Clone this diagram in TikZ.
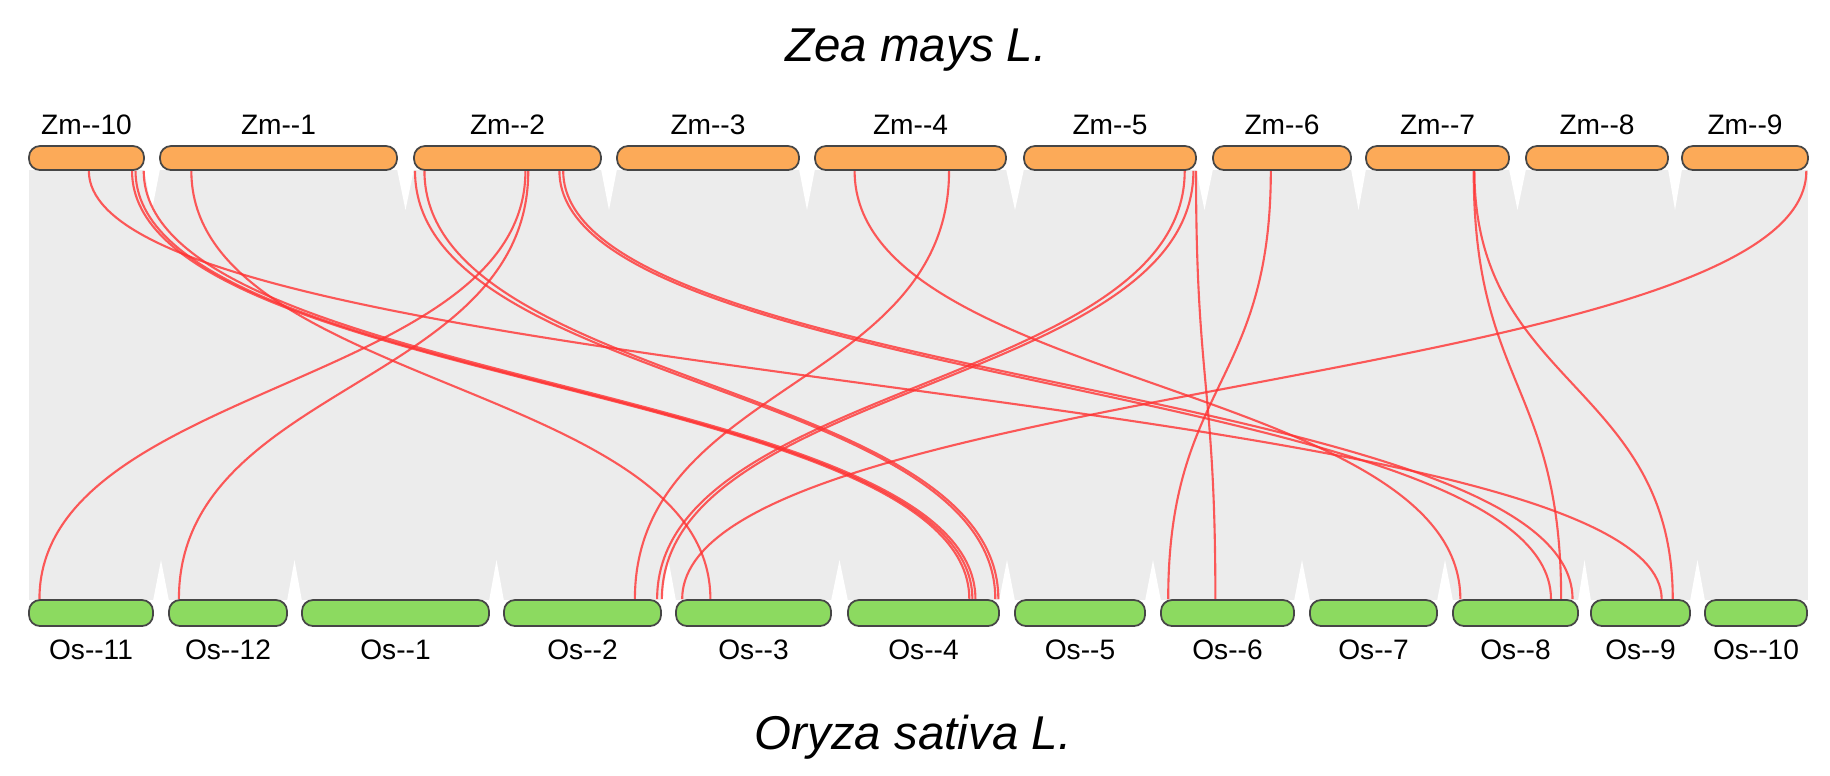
\documentclass[tikz,border=0pt]{standalone}
\usepackage{fontspec}
\setmainfont{Liberation Sans}
\usetikzlibrary{calc,positioning,backgrounds}

\definecolor{zmorange}{RGB}{252,170,88}
\definecolor{osgreen}{RGB}{140,218,96}
\definecolor{barline}{RGB}{70,70,70}
\definecolor{linkgray}{RGB}{236,236,236}
\definecolor{synred}{RGB}{255,50,50}

\newcommand{\synlink}[4]{%
  \draw[synline] ($(#1.south west)!#2!(#1.south east)$) .. controls +(0,215) and +(0,-215) .. ($(#3.north west)!#4!(#3.north east)$)}

\begin{document}
\begin{tikzpicture}[x=0.01cm, y=-0.01cm,
    zmbar/.style={draw=barline, line width=0.5pt, fill=zmorange, rounded corners=0.11cm, minimum height=0.24cm, inner sep=0pt},
    osbar/.style={draw=barline, line width=0.5pt, fill=osgreen, rounded corners=0.11cm, minimum height=0.26cm, inner sep=0pt},
    barlabel/.style={inner sep=0pt, font=\fontsize{8pt}{9pt}\selectfont},
    species/.style={anchor=base, inner sep=0pt, font=\fontsize{13.5pt}{16pt}\selectfont\itshape},
    synline/.style={draw=synred, line width=0.6pt, draw opacity=0.8}]
  \useasboundingbox (0,0) rectangle (1830,775);

  \node[species] (zea) at (916,61) {Zea mays L.};
  \node[species] (oryza) at (913,749) {Oryza sativa L.};

  \foreach \num/\x/\w in {10/29/115, 1/160/237, 2/414/187, 3/617/182, 4/815/191,
                          5/1024/172, 6/1213/138, 7/1366/143, 8/1526/142, 9/1682/126}{
    \node[zmbar, minimum width=\w*0.01cm] (zm\num) at ({\x+\w/2},158) {};
    \node[barlabel, above=0.1cm of zm\num] (zm\num-lab) {Zm-{}-\num};
  }

  \foreach \num/\x/\w in {11/29/124, 12/169/118, 1/302/187, 2/504/157, 3/676/155, 4/848/151,
                          5/1015/130, 6/1161/133, 7/1310/127, 8/1453/125, 9/1591/99, 10/1705/102}{
    \node[osbar, minimum width=\w*0.01cm] (os\num) at ({\x+\w/2},613) {};
    \node[barlabel, below=0.12cm of os\num] (os\num-lab) {Os-{}-\num};
  }

  \begin{pgfonlayer}{background}
    \fill[linkgray] (29,170) rectangle (1808,600);
    \foreach \lx/\rx in {144/160, 397/414, 601/617, 799/815, 1006/1024, 1196/1213, 1351/1366, 1509/1526, 1668/1682}
      \fill[white] (\lx,169) -- (\rx,169) -- ({(\lx+\rx)/2},210) -- cycle;
    \foreach \lx/\rx in {153/169, 287/302, 489/504, 661/676, 831/848, 999/1015, 1145/1161, 1294/1310, 1437/1453, 1578/1591, 1690/1705}
      \fill[white] (\lx,601) -- (\rx,601) -- ({(\lx+\rx)/2},560) -- cycle;

    \foreach \zm/\zp/\os/\op in {zm10/0.52/os9/0.71, zm10/0.89/os4/0.80, zm10/0.92/os4/0.82, zm10/0.99/os4/0.84,
        zm1/0.135/os3/0.225, zm2/0.01/os4/0.97, zm2/0.06/os4/0.99, zm2/0.595/os11/0.09, zm2/0.61/os12/0.09,
        zm2/0.775/os8/0.78, zm2/0.795/os8/0.95, zm4/0.21/os8/0.065, zm4/0.70/os2/0.83, zm5/0.93/os2/0.97,
        zm5/0.98/os2/1.0, zm5/0.995/os6/0.41, zm6/0.42/os6/0.06, zm7/0.75/os8/0.86, zm7/0.755/os9/0.82,
        zm9/0.98/os3/0.045}
      \synlink{\zm}{\zp}{\os}{\op};
  \end{pgfonlayer}
\end{tikzpicture}
\end{document}
